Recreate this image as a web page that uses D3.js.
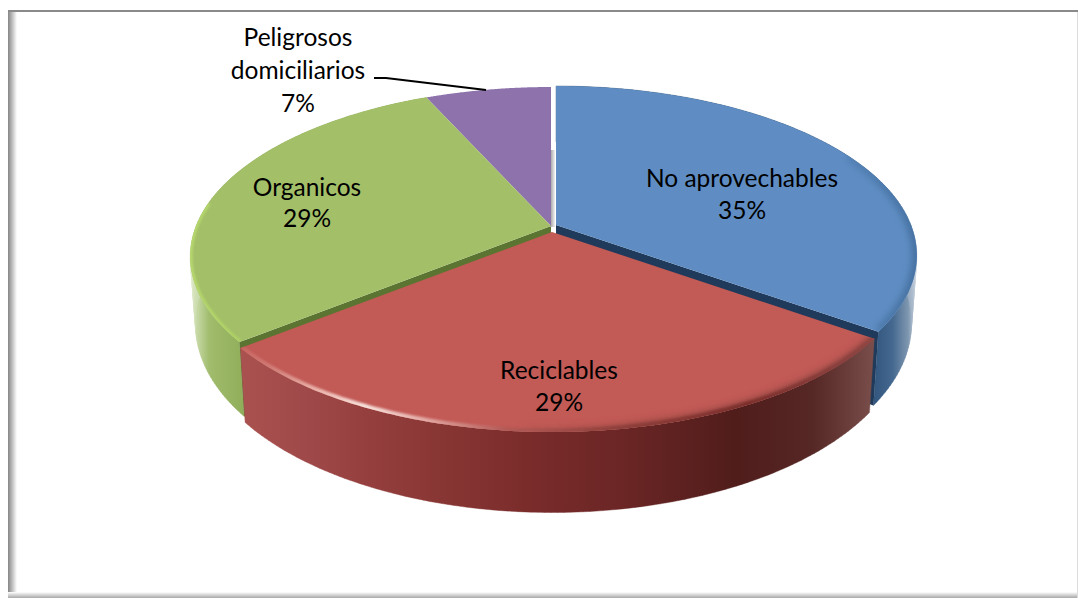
<!DOCTYPE html>
<html><head><meta charset="utf-8">
<script src="https://cdn.jsdelivr.net/npm/d3@7/dist/d3.min.js"></script>
<style>html,body{margin:0;padding:0;background:#fff}svg{display:block}</style></head>
<body><div id="c"></div>
<script>
const categories = ["No aprovechables","Reciclables","Organicos","Peligrosos domiciliarios"];
const values = [34.9,29.3,29.1,6.7];
const percentLabels = ["35%","29%","29%","7%"];
const topColors = ["#5f8dc3","#c25a56","#a3bf68","#8d72ab"];
const labelLines = [["No aprovechables","35%"],["Reciclables","29%"],["Organicos","29%"],["Peligrosos","domiciliarios","7%"]];

const W=1078,H=598;
const svg=d3.select("#c").append("svg").attr("width",W).attr("height",H);
const defs=svg.append("defs");

// perspective disc projection
const geom={cx:551,cy:226,R:355,S:164,k:0.18,D:66,shrink:0.985};
const offsets=[{x:5,y:-1},{x:1,y:6},{x:0,y:0},{x:0,y:0}];
const pie=d3.pie().sort(null).value(d=>d).startAngle(0).endAngle(2*Math.PI)(values);
function proj(a,r,z,o){
  const u=Math.sin(a)*r,v=-Math.cos(a)*r,den=1-geom.k*v,s=z?geom.shrink:1;
  return [geom.cx+o.x+geom.R*u*s/den, geom.cy+o.y+(geom.S*v+(z?geom.D:0))/den];
}
const line=d3.line();
function arcPts(s,z,o,a0,a1){
  const from=a0===undefined?s.startAngle:a0,to=a1===undefined?s.endAngle:a1;
  return d3.range(0,121).map(i=>proj(from+(to-from)*i/120,1,z,o));
}
function grad(id,x1,x2,stops){
  const g=defs.append("linearGradient").attr("id",id).attr("gradientUnits","userSpaceOnUse")
    .attr("x1",x1).attr("x2",x2).attr("y1",0).attr("y2",0);
  stops.forEach(s=>g.append("stop").attr("offset",s[0]).attr("stop-color",s[1]));
}
defs.append("filter").attr("id","blur").attr("filterUnits","userSpaceOnUse").attr("x",0).attr("y",0).attr("width",W).attr("height",H)
  .append("feGaussianBlur").attr("stdDeviation",1.3);
defs.append("filter").attr("id","blurWide").attr("filterUnits","userSpaceOnUse").attr("x",0).attr("y",0).attr("width",W).attr("height",H)
  .append("feGaussianBlur").attr("stdDeviation",3.5);

// frame
const fg=(id,x1,y1,x2,y2,a,b)=>{const g=defs.append("linearGradient").attr("id",id).attr("x1",x1).attr("y1",y1).attr("x2",x2).attr("y2",y2);
  g.append("stop").attr("offset",0).attr("stop-color",a);g.append("stop").attr("offset",1).attr("stop-color",b);};
fg("fLeft",0,0,1,0,"#858585","#ffffff");
fg("fBottom",0,0,0,1,"#ffffff","#a8a8a8");
svg.append("rect").attr("x",8).attr("y",10).attr("width",9).attr("height",588).attr("fill","url(#fLeft)");
svg.append("rect").attr("x",8).attr("y",592).attr("width",1070).attr("height",6).attr("fill","url(#fBottom)");
svg.append("rect").attr("x",1077).attr("y",10).attr("width",1).attr("height",588).attr("fill","#dcdcdc");
svg.append("rect").attr("x",8).attr("y",10).attr("width",1070).attr("height",2).attr("fill","#8a8a8a");

// wall gradients
grad("wall0",868,917,[[0,"#2c5078"],[0.5,"#44688f"],[0.82,"#7f97b0"],[1,"#d5dde6"]]);
grad("wall1",240,876,[[0,"#a9524f"],[0.1,"#a0494a"],[0.25,"#8f3b39"],[0.45,"#7a2c2b"],[0.6,"#6b2625"],[0.78,"#501d1b"],[0.9,"#552725"],[1,"#7a4f4c"]]);
grad("wall2",190,244,[[0,"#e6eed6"],[0.14,"#c4d7a2"],[0.36,"#a0bc6c"],[1,"#90ae5a"]]);
// rim highlights
grad("rim0",720,917,[[0,"#6a97cc"],[0.55,"#5885ba"],[1,"#44709f"]]);
grad("rim1",237,876,[[0,"#c8625e"],[0.05,"#d07a75"],[0.12,"#eab0a8"],[0.2,"#f8e2dc"],[0.3,"#e2a5a0"],[0.42,"#b35a56"],[0.6,"#8e3f3b"],[0.8,"#7c2f2c"],[1,"#8e4744"]]);
grad("rim1b",500,876,[[0,"#c25a56"],[0.4,"#96443f"],[1,"#8a4340"]]);
grad("rim2",190,260,[[0,"#b7d86e"],[1,"#a9cf5e"]]);

const chart=svg.append("g").attr("class","pie");
// the wall is the swept rim: one quad per rim step, so the silhouette stays tangent
function wall(i){
  const s=pie[i],o=offsets[i],top=arcPts(s,false,o),bot=arcPts(s,true,o);
  const d=d3.range(top.length-1).map(j=>line([top[j],top[j+1],bot[j+1],bot[j]])+"Z").join("");
  chart.append("path").attr("d",d).attr("fill",`url(#wall${i})`).attr("fill-rule","nonzero")
    .attr("stroke",`url(#wall${i})`).attr("stroke-width",0.4);
}
wall(2); wall(0);

// inner radial faces seen through the gap
function radial(i,a,fill){
  const o=offsets[i],A=proj(a,0,false,o),B=proj(a,1,false,o),C=proj(a,1,true,o),E=proj(a,0,true,o);
  chart.append("path").attr("d",line([A,B,C,E])+"Z").attr("fill",fill);
}
radial(0,pie[0].endAngle,"#1f3a5a");
radial(2,pie[2].startAngle,"#5b7431");

// soft shadow in the gap behind the blue slice
const apex=proj(0,0,false,offsets[3]);
fg("gap",0,0,1,0,"#9a9a9a","#f2f2f2");
chart.append("rect").attr("x",apex[0]-1).attr("y",apex[1]-76).attr("width",5).attr("height",77).attr("fill","url(#gap)");

function topFace(i){
  const s=pie[i],o=offsets[i],c=proj(0,0,false,o),pts=[c].concat(arcPts(s,false,o));
  const cp="clip"+i;
  defs.append("clipPath").attr("id",cp).append("path").attr("d",line(pts)+"Z");
  chart.append("path").attr("class","slice").attr("d",line(pts)+"Z").attr("fill",topColors[i]);
  return cp;
}
function rim(cp,i,a0,a1,width,stroke,filter){
  chart.append("g").attr("clip-path",`url(#${cp})`).append("path")
    .attr("d",line(arcPts(pie[i],false,offsets[i],a0,a1)))
    .attr("fill","none").attr("stroke",stroke).attr("stroke-width",width).attr("filter",`url(#${filter})`);
}
const cp3=topFace(3);
const cp2=topFace(2);
rim(cp2,2,pie[2].startAngle,pie[2].startAngle+(pie[2].endAngle-pie[2].startAngle)*0.45,5,"url(#rim2)","blur");
const cp0=topFace(0);
rim(cp0,0,pie[0].startAngle+(pie[0].endAngle-pie[0].startAngle)*0.5,pie[0].endAngle,10,"url(#rim0)","blurWide");
wall(1);
const cp1=topFace(1);
rim(cp1,1,pie[1].startAngle,pie[1].startAngle+(pie[1].endAngle-pie[1].startAngle)*0.55,10,"url(#rim1b)","blurWide");
rim(cp1,1,pie[1].startAngle,pie[1].endAngle,7,"url(#rim1)","blur");

// labels
const labelPos=[[742,181],[559,373],[307,190],[298,40]];
const lineStep=[32,32,31,33];
const labels=svg.append("g").attr("font-family","Lato, 'Noto Sans', sans-serif").attr("font-size",24.5).attr("fill","#000").attr("text-anchor","middle");
labelLines.forEach((ls,i)=>{
  ls.forEach((t,j)=>labels.append("text").attr("x",labelPos[i][0]).attr("y",labelPos[i][1]+j*lineStep[i]).attr("dominant-baseline","middle").text(t));
});
// leader line
const leader=[[374,78],[386,78],[486,90]];
svg.append("path").attr("d",d3.line()(leader)).attr("fill","none").attr("stroke","#000").attr("stroke-width",1.8);
</script></body></html>
